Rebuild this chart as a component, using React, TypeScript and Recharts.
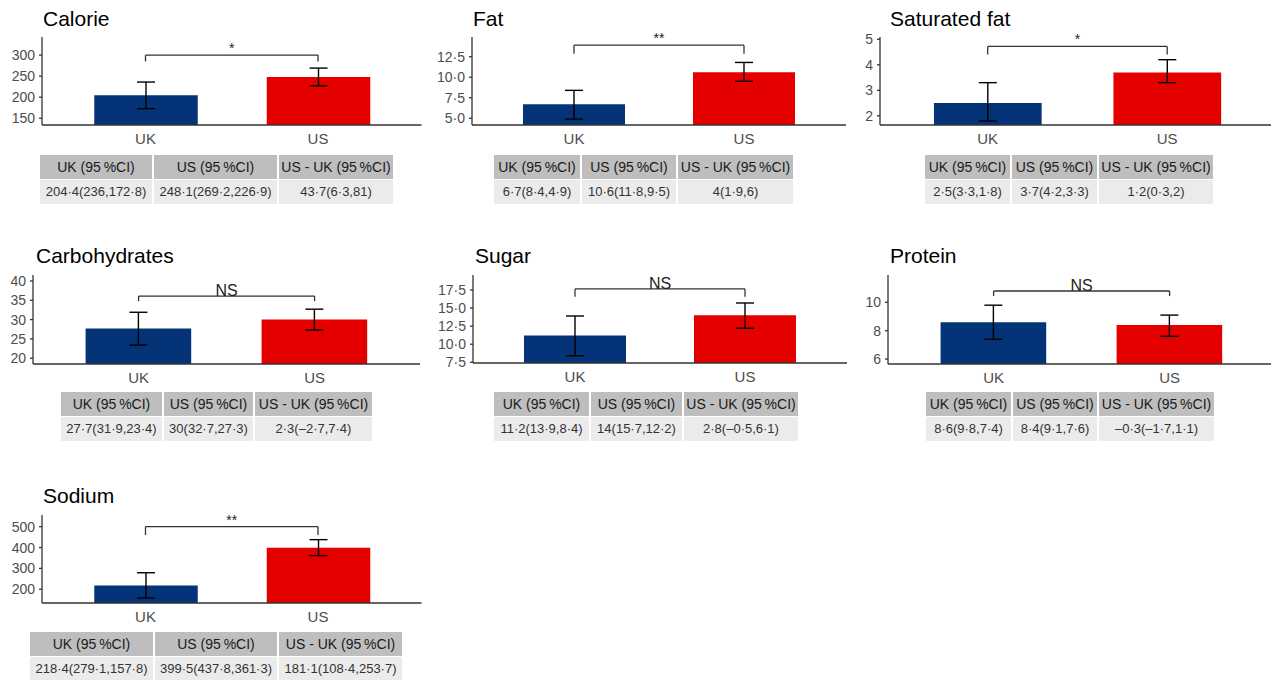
import { BarChart, Bar, XAxis, YAxis, ErrorBar, Cell, ReferenceLine } from "recharts";

const groups = ["UK", "US"];
const nutrients = ["Calorie", "Fat", "Saturated fat", "Carbohydrates", "Sugar", "Protein", "Sodium"];

const ukMean = [204.4, 6.7, 2.5, 27.7, 11.2, 8.6, 218.4];
const ukUpper = [236, 8.4, 3.3, 31.9, 13.9, 9.8, 279.1];
const ukLower = [172.8, 4.9, 1.8, 23.4, 8.4, 7.4, 157.8];
const usMean = [248.1, 10.6, 3.7, 30, 14, 8.4, 399.5];
const usUpper = [269.2, 11.8, 4.2, 32.7, 15.7, 9.1, 437.8];
const usLower = [226.9, 9.5, 3.3, 27.3, 12.2, 7.6, 361.3];
const diffMean = [43.7, 4, 1.2, 2.3, 2.8, -0.3, 181.1];
const diffLower = [6.3, 1.9, 0.3, -2.7, -0.5, -1.7, 108.4];
const diffUpper = [81, 6, 2, 7.4, 6.1, 1.1, 253.7];

const significance = ["*", "**", "*", "NS", "NS", "NS", "**"];
const bracketLevel = [300, 13.9, 4.72, 36.1, 17.64, 10.8, 500];
const bracketTip = [285, 12.85, 4.4, 34.8, 16.55, 10.44, 460];

const yTicks = [
  [150, 200, 250, 300],
  [5, 7.5, 10, 12.5],
  [2, 3, 4, 5],
  [20, 25, 30, 35, 40],
  [7.5, 10, 12.5, 15, 17.5],
  [6, 8, 10],
  [200, 300, 400, 500],
];
const yDomains = [
  [134, 343],
  [4.18, 14.9],
  [1.64, 5.09],
  [18.5, 41.55],
  [7.4, 19.57],
  [5.65, 11.93],
  [134, 556],
];
const tickDecimals = [0, 1, 0, 0, 1, 0, 0];

const tableHeaders = ["UK (95\u2009%CI)", "US (95\u2009%CI)", "US - UK (95\u2009%CI)"];

const barColors = ["#043378", "#e50000"];
const FONT = "'Liberation Sans', Arial, Helvetica, sans-serif";

// panel geometry (px)
const layout = [
  { axisX: 42, unit: 172.5, top: 37, bottom: 125, titleX: 43, titleY: 8, tableX: 40, tableY: 155, cols: [112, 123, 114] },
  { axisX: 472, unit: 170, top: 37, bottom: 125, titleX: 473, titleY: 8, tableX: 494, tableY: 155, cols: [86, 94, 115] },
  { axisX: 880, unit: 179.5, top: 37, bottom: 125, titleX: 890, titleY: 8, tableX: 925, tableY: 155, cols: [85, 85, 114] },
  { axisX: 33, unit: 176, top: 275, bottom: 364, titleX: 36, titleY: 245, tableX: 61, tableY: 392, cols: [101, 89, 117] },
  { axisX: 473, unit: 170, top: 275, bottom: 363, titleX: 475, titleY: 245, tableX: 494, tableY: 392, cols: [95, 91, 114] },
  { axisX: 888, unit: 176, top: 275, bottom: 364, titleX: 890, titleY: 245, tableX: 926, tableY: 392, cols: [85, 84, 115] },
  { axisX: 42, unit: 172.5, top: 515, bottom: 603, titleX: 43, titleY: 485, tableX: 30, tableY: 632, cols: [123, 122, 123] },
];

const fmt = (v: number) => String(v).replace(".", "·").replace("-", "–");
const ci = (m: number, a: number, b: number) => `${fmt(m)}(${fmt(a)},${fmt(b)})`;

function StatsTable({ i }: { i: number }) {
  const L = layout[i];
  const body = [
    ci(ukMean[i], ukUpper[i], ukLower[i]),
    ci(usMean[i], usUpper[i], usLower[i]),
    ci(diffMean[i], diffLower[i], diffUpper[i]),
  ];
  let x = L.tableX;
  const lefts = L.cols.map((w) => {
    const l = x;
    x += w + 2;
    return l;
  });
  return (
    <>
      {L.cols.map((w, k) => (
        <div key={"h" + k}>
          <div
            style={{
              position: "absolute", left: lefts[k], top: L.tableY, width: w, height: 24,
              background: "#bebebe", color: "#1a1a1a", fontSize: 14, lineHeight: "24px", textAlign: "center", whiteSpace: "nowrap",
            }}
          >
            {tableHeaders[k]}
          </div>
          <div
            style={{
              position: "absolute", left: lefts[k], top: L.tableY + 25, width: w, height: 24,
              background: "#ebebeb", color: "#333", fontSize: 13, lineHeight: "24px", textAlign: "center", whiteSpace: "nowrap",
            }}
          >
            {body[k]}
          </div>
        </div>
      ))}
    </>
  );
}

function Panel({ i }: { i: number }) {
  const L = layout[i];
  const yAxisW = 44;
  const xAxisH = 30;
  const topPad = 24;
  const plotW = 2.2 * L.unit;
  const plotH = L.bottom - L.top;
  const means = [ukMean[i], usMean[i]];
  const lows = [ukLower[i], usLower[i]];
  const highs = [ukUpper[i], usUpper[i]];
  const data = groups.map((g, k) => ({
    group: g,
    mean: means[k],
    err: [means[k] - lows[k], highs[k] - means[k]],
  }));
  const lineStyle = { stroke: "#333", strokeWidth: 1.3 };
  const isNS = significance[i] === "NS";
  return (
    <>
      <div style={{ position: "absolute", left: L.titleX, top: L.titleY, fontSize: 21, lineHeight: 1, color: "#000" }}>
        {nutrients[i]}
      </div>
      <div style={{ position: "absolute", left: L.axisX - yAxisW, top: L.top - topPad }}>
        <BarChart
          width={yAxisW + plotW}
          height={plotH + xAxisH + topPad}
          data={data}
          margin={{ top: topPad, right: 0, bottom: 0, left: 0 }}
        >
          <XAxis
            dataKey="group"
            height={xAxisH}
            padding={{ left: 0.1 * L.unit, right: 0.1 * L.unit }}
            tickLine={false}
            tickSize={0}
            tickMargin={8}
            axisLine={lineStyle}
            tick={{ fontSize: 15, fill: "#4d4d4d" }}
          />
          <YAxis
            type="number"
            domain={yDomains[i]}
            allowDataOverflow
            ticks={yTicks[i]}
            interval={0}
            width={yAxisW}
            tickSize={3}
            tickMargin={4}
            axisLine={lineStyle}
            tickLine={lineStyle}
            tick={{ fontSize: 14, fill: "#4d4d4d" }}
            tickFormatter={(v: number) => v.toFixed(tickDecimals[i]).replace(".", "·")}
          />
          <Bar dataKey="mean" barSize={0.6 * L.unit} isAnimationActive={false}>
            {data.map((d, k) => (
              <Cell key={d.group} fill={barColors[k]} />
            ))}
            <ErrorBar dataKey="err" width={9} stroke="#000" strokeWidth={1.4} direction="y" isAnimationActive={false} />
          </Bar>
          <ReferenceLine
            segment={[{ x: "UK", y: bracketLevel[i] }, { x: "US", y: bracketLevel[i] }]}
            position="middle"
            {...lineStyle}
            label={{
              value: significance[i],
              position: "top",
              offset: isNS ? 0 : 2,
              fontSize: isNS ? 16 : 14,
              fill: "#222",
            }}
          />
          <ReferenceLine segment={[{ x: "UK", y: bracketLevel[i] }, { x: "UK", y: bracketTip[i] }]} position="middle" {...lineStyle} />
          <ReferenceLine segment={[{ x: "US", y: bracketLevel[i] }, { x: "US", y: bracketTip[i] }]} position="middle" {...lineStyle} />
        </BarChart>
      </div>
      <StatsTable i={i} />
    </>
  );
}

export default function App() {
  return (
    <div
      style={{
        position: "absolute", left: 0, top: 0, width: 1271, height: 680, overflow: "hidden",
        background: "#fff", fontFamily: FONT,
      }}
    >
      {nutrients.map((n, i) => (
        <Panel key={n} i={i} />
      ))}
    </div>
  );
}
